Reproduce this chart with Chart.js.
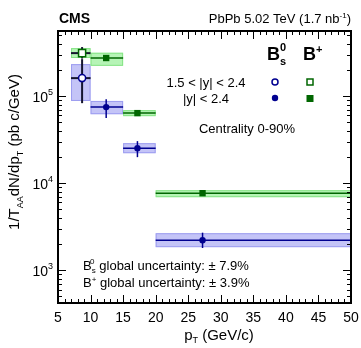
<!DOCTYPE html>
<html>
<head>
<meta charset="utf-8">
<script src="https://cdn.jsdelivr.net/npm/chart.js@4.4.0/dist/chart.umd.min.js"></script>
<style>
  html, body { margin: 0; padding: 0; background: #fff; }
  #chartBox { width: 361px; height: 348px; }
</style>
</head>
<body>
<div id="chartBox"><canvas id="spectrumChart" width="361" height="348"></canvas></div>
<script>
// pT bins (GeV/c) and mean pT of each bin
const binLow = [7, 10, 15, 20];
const binHigh = [10, 15, 20, 50];
const meanPt = [8.7, 12.4, 17.2, 27.2];
// first bin is the forward one (1.5 < |y| < 2.4), drawn with open markers
const isForward = [true, false, false, false];

// Bs0 cross section
const bsValue = [1.61e5, 7.48e4, 2.52e4, 2.21e3];
const bsStatLow = [8.3e4, 5.6e4, 1.99e4, 1.8e3];
const bsStatHigh = [2.66e5, 9.2e4, 3.04e4, 2.7e3];
const bsSystLow = [8.8e4, 6.2e4, 2.21e4, 1.84e3];
const bsSystHigh = [2.33e5, 8.8e4, 2.88e4, 2.66e3];

// B+ cross section
const bpValue = [3.12e5, 2.74e5, 6.38e4, 7.67e3];
const bpStatLow = [2.7e5, 2.62e5, 6.2e4, 7.5e3];
const bpStatHigh = [3.66e5, 2.87e5, 6.56e4, 7.85e3];
const bpSystLow = [2.74e5, 2.23e5, 5.89e4, 6.9e3];
const bpSystHigh = [3.56e5, 3.15e5, 6.9e4, 8.3e3];

// axis ranges and tick labels
const xMin = 5, xMax = 50;
const yMin = 420, yMax = 5.6e5;
const xTickLabels = [5, 10, 15, 20, 25, 30, 35, 40, 45, 50];
const yDecades = [3, 4, 5];

const BS_COLOR = '#000090';
const BP_COLOR = '#006600';
const OPEN_LINE = '#15152e';
const FONT = '"Liberation Sans", Arial, Helvetica, sans-serif';

function pointsFor(values, forward) {
    const pts = [];
    values.forEach((v, i) => {
        if (isForward[i] === forward) pts.push({ x: meanPt[i], y: v });
    });
    return pts;
}

// draws a run of text pieces: [text, size, dy, bold]
function richText(ctx, x, y, pieces, align) {
    let total = 0;
    pieces.forEach(p => {
        ctx.font = (p[3] ? 'bold ' : '') + p[1] + 'px ' + FONT;
        total += ctx.measureText(p[0]).width;
    });
    let cx = x;
    if (align === 'center') cx = x - total / 2;
    if (align === 'right') cx = x - total;
    ctx.textAlign = 'left';
    pieces.forEach(p => {
        ctx.font = (p[3] ? 'bold ' : '') + p[1] + 'px ' + FONT;
        ctx.fillText(p[0], cx, y + (p[2] || 0));
        cx += ctx.measureText(p[0]).width;
    });
}

function line(ctx, x1, y1, x2, y2) {
    ctx.beginPath();
    ctx.moveTo(x1, y1);
    ctx.lineTo(x2, y2);
    ctx.stroke();
}

const decorPlugin = {
    id: 'cmsDecor',
    beforeDatasetsDraw(chart) {
        const ctx = chart.ctx;
        const xs = chart.scales.x, ys = chart.scales.y;
        ctx.save();

        // systematic boxes
        const boxes = [
            [bsSystLow, bsSystHigh, '#c4c4f7', '#9d9df0'],
            [bpSystLow, bpSystHigh, '#b6f4b6', '#86e486']
        ];
        boxes.forEach(([lo, hi, fill, edge]) => {
            lo.forEach((l, i) => {
                const x1 = xs.getPixelForValue(binLow[i]);
                const x2 = xs.getPixelForValue(binHigh[i]);
                const y1 = ys.getPixelForValue(hi[i]);
                const y2 = ys.getPixelForValue(l);
                ctx.fillStyle = fill;
                ctx.fillRect(x1, y1, x2 - x1, y2 - y1);
                ctx.strokeStyle = edge;
                ctx.lineWidth = 1;
                ctx.strokeRect(x1 + 0.5, y1 + 0.5, x2 - x1 - 1, y2 - y1 - 1);
            });
        });

        // bin width and statistical error bars
        const bars = [
            [bsValue, bsStatLow, bsStatHigh, BS_COLOR],
            [bpValue, bpStatLow, bpStatHigh, BP_COLOR]
        ];
        bars.forEach(([val, lo, hi, color]) => {
            val.forEach((v, i) => {
                ctx.strokeStyle = isForward[i] ? OPEN_LINE : color;
                ctx.lineWidth = isForward[i] ? 2 : 1.5;
                const px = xs.getPixelForValue(meanPt[i]);
                const py = ys.getPixelForValue(v);
                line(ctx, xs.getPixelForValue(binLow[i]), py, xs.getPixelForValue(binHigh[i]), py);
                line(ctx, px, ys.getPixelForValue(hi[i]), px, ys.getPixelForValue(lo[i]));
            });
        });
        ctx.restore();
    },
    afterDraw(chart) {
        const ctx = chart.ctx;
        const xs = chart.scales.x, ys = chart.scales.y;
        const a = chart.chartArea;
        ctx.save();

        // ticks on all four sides
        ctx.strokeStyle = '#000';
        ctx.lineWidth = 1;
        for (let v = xMin; v <= xMax; v++) {
            const px = Math.round(xs.getPixelForValue(v)) + 0.5;
            const len = v % 5 === 0 ? 8 : 4;
            line(ctx, px, a.bottom, px, a.bottom - len);
            line(ctx, px, a.top, px, a.top + len);
        }
        for (let d = 2; d <= 5; d++) {
            for (let m = 1; m <= 9; m++) {
                const v = m * Math.pow(10, d);
                if (v < yMin || v > yMax) continue;
                const py = Math.round(ys.getPixelForValue(v)) + 0.5;
                const len = m === 1 ? 8 : 4;
                line(ctx, a.left, py, a.left + len, py);
                line(ctx, a.right, py, a.right - len, py);
            }
        }

        // frame
        ctx.lineWidth = 2;
        ctx.strokeRect(a.left, a.top, a.right - a.left, a.bottom - a.top);

        ctx.fillStyle = '#000';
        ctx.textBaseline = 'alphabetic';

        // tick labels
        xTickLabels.forEach(v => {
            richText(ctx, xs.getPixelForValue(v), a.bottom + 19, [[String(v), 14]], 'center');
        });
        yDecades.forEach(d => {
            const py = ys.getPixelForValue(Math.pow(10, d));
            richText(ctx, a.left - 5, py + 6, [['10', 14], [String(d), 9, -7]], 'right');
        });

        // axis titles
        richText(ctx, 219, 340, [['p', 15], ['T', 9, 3], [' (GeV/c)', 15]], 'center');
        ctx.save();
        ctx.translate(19, 152);
        ctx.rotate(-Math.PI / 2);
        richText(ctx, 0, 0, [['1/T', 15], ['AA', 9, 4], ['dN/dp', 15], ['T', 9, 4], [' (pb c/GeV)', 15]], 'center');
        ctx.restore();

        // header
        richText(ctx, 59, 23, [['CMS', 14, 0, true]], 'left');
        richText(ctx, 351, 23, [['PbPb 5.02 TeV (1.7 nb', 13], ['-1', 8, -5], [')', 13]], 'right');

        // legend
        richText(ctx, 267, 60, [['B', 18, 0, true], ['s', 11, 5, true]], 'left');
        richText(ctx, 280, 56, [['0', 11, -5, true]], 'left');
        richText(ctx, 303, 60, [['B', 18, 0, true], ['+', 11, -7, true]], 'left');
        richText(ctx, 206, 87, [['1.5 < |y| < 2.4', 13]], 'center');
        richText(ctx, 206, 103, [['|y| < 2.4', 13]], 'center');
        ctx.lineWidth = 1.5;
        ctx.strokeStyle = BS_COLOR;
        ctx.beginPath(); ctx.arc(275, 82, 3, 0, Math.PI * 2); ctx.stroke();
        ctx.fillStyle = BS_COLOR;
        ctx.beginPath(); ctx.arc(275, 98, 3.2, 0, Math.PI * 2); ctx.fill();
        ctx.strokeStyle = BP_COLOR;
        ctx.strokeRect(307, 79, 6, 6);
        ctx.fillStyle = BP_COLOR;
        ctx.fillRect(306.5, 95, 7, 7);

        ctx.fillStyle = '#000';
        richText(ctx, 247, 133, [['Centrality 0-90%', 13]], 'center');

        richText(ctx, 83, 270, [['B', 13], ['s', 8, 3], [' global uncertainty: \u00b1 7.9%', 13]], 'left');
        richText(ctx, 90, 264, [['0', 8, 0]], 'left');
        richText(ctx, 83, 287, [['B', 13], ['+', 8, -5], [' global uncertainty: \u00b1 3.9%', 13]], 'left');
        ctx.restore();
    }
};

const ctx = document.getElementById('spectrumChart').getContext('2d');
const spectrumChart = new Chart(ctx, {
    type: 'scatter',
    data: {
        datasets: [
            {
                label: 'Bs0 1.5<|y|<2.4',
                data: pointsFor(bsValue, true),
                pointStyle: 'circle',
                pointRadius: 3.5,
                backgroundColor: '#fff',
                borderColor: BS_COLOR,
                borderWidth: 1.5
            },
            {
                label: 'Bs0 |y|<2.4',
                data: pointsFor(bsValue, false),
                pointStyle: 'circle',
                pointRadius: 3.2,
                backgroundColor: BS_COLOR,
                borderColor: BS_COLOR,
                borderWidth: 0
            },
            {
                label: 'B+ 1.5<|y|<2.4',
                data: pointsFor(bpValue, true),
                pointStyle: 'rect',
                pointRadius: 5,
                backgroundColor: '#fff',
                borderColor: BP_COLOR,
                borderWidth: 1.5
            },
            {
                label: 'B+ |y|<2.4',
                data: pointsFor(bpValue, false),
                pointStyle: 'rect',
                pointRadius: 4.5,
                backgroundColor: BP_COLOR,
                borderColor: BP_COLOR,
                borderWidth: 0
            }
        ]
    },
    options: {
        responsive: false,
        animation: false,
        devicePixelRatio: 1,
        layout: { padding: { left: 58, right: 10, top: 31, bottom: 45 } },
        plugins: {
            legend: { display: false },
            tooltip: { enabled: false }
        },
        scales: {
            x: { type: 'linear', min: xMin, max: xMax, display: false },
            y: { type: 'logarithmic', min: yMin, max: yMax, display: false }
        }
    },
    plugins: [decorPlugin]
});
</script>
</body>
</html>
